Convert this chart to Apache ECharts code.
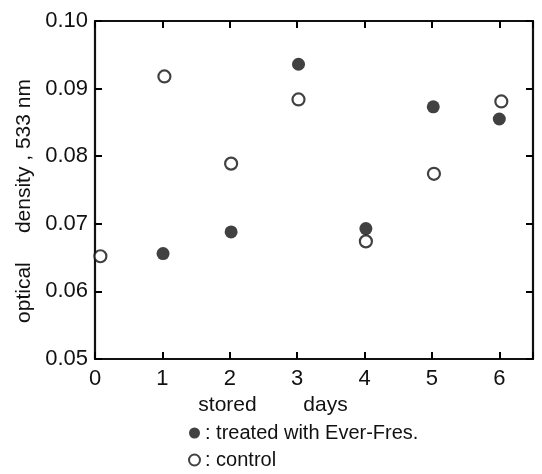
<!DOCTYPE html>
<html>
<head>
  <meta charset="utf-8">
  <title>optical density</title>
  <script src="https://cdn.jsdelivr.net/npm/echarts@6/dist/echarts.min.js"></script>
  <style>
    html, body { margin: 0; padding: 0; background: #fff; }
  </style>
</head>
<body>
<div id="main" style="width: 542px;height: 474px"></div>
<script type="text/javascript">
  // stored days and OD readings (533 nm)
  var days = [0, 1, 2, 3, 4, 5, 6];
  var controlX = [0.08, 1.03, 2.02, 3.02, 4.02, 5.03, 6.03];
  var controlOD = [0.0652, 0.0918, 0.0789, 0.0884, 0.0674, 0.0774, 0.0881];
  var treatedX = [1.01, 2.02, 3.02, 4.02, 5.02, 6.0];
  var treatedOD = [0.0656, 0.0688, 0.0936, 0.0693, 0.0873, 0.0855];
  var yTicks = ['0.05', '0.06', '0.07', '0.08', '0.09', '0.10'];

  function pairs(xs, ys) {
    var out = [];
    for (var i = 0; i < xs.length; i++) out.push([xs[i], ys[i]]);
    return out;
  }

  var font = "'Liberation Sans', Arial, sans-serif";
  var black = '#111';
  var tick = { show: true, inside: true, length: 7, lineStyle: { color: '#000', width: 2 } };
  var line = { show: true, onZero: false, lineStyle: { color: black, width: 2.2 } };

  var myChart = echarts.init(document.getElementById('main'));
  var option = {
    animation: false,
    textStyle: { fontFamily: font, color: black },
    grid: { left: 95, right: 9, top: 21, bottom: 115 },
    legend: {
      orient: 'vertical',
      left: 188,
      top: 423,
      height: 60,
      padding: 0,
      itemWidth: 11,
      itemHeight: 11,
      itemGap: 7,
      textStyle: { fontSize: 20, color: black, fontFamily: font },
      formatter: function (name) { return ': ' + name; },
      data: ['treated with Ever-Fres.', 'control']
    },
    xAxis: [{
      type: 'value', min: 0, max: 6.5, interval: 1,
      name: 'stored        days',
      nameLocation: 'middle', nameGap: 33,
      nameTextStyle: { fontSize: 21, color: black, padding: [0, 82, 0, 0] },
      axisLine: line,
      axisTick: tick,
      axisLabel: {
        fontSize: 22, color: black, margin: 9,
        formatter: function (v) { return days.indexOf(v) >= 0 ? String(v) : ''; }
      },
      splitLine: { show: false }
    }, {
      type: 'value', min: 0, max: 6.5, interval: 1, position: 'top',
      axisLine: line,
      axisTick: tick,
      axisLabel: { show: false },
      splitLine: { show: false }
    }],
    yAxis: [{
      type: 'value', min: 0.05, max: 0.10, interval: 0.01,
      name: 'optical     density , 533 nm',
      nameLocation: 'middle', nameGap: 60,
      nameTextStyle: { fontSize: 21, color: black, padding: [0, 22, 0, 0] },
      axisLine: line,
      axisTick: tick,
      axisLabel: {
        fontSize: 22, color: black, margin: 7,
        formatter: function (v) { return yTicks[Math.round((v - 0.05) * 100)]; }
      },
      splitLine: { show: false }
    }, {
      type: 'value', min: 0.05, max: 0.10, interval: 0.01, position: 'right',
      axisLine: line,
      axisTick: tick,
      axisLabel: { show: false },
      splitLine: { show: false }
    }],
    series: [{
      name: 'treated with Ever-Fres.',
      type: 'scatter',
      symbol: 'circle',
      symbolSize: 13,
      itemStyle: { color: black },
      data: pairs(treatedX, treatedOD)
    }, {
      name: 'control',
      type: 'scatter',
      symbol: 'circle',
      symbolSize: 12,
      itemStyle: { color: '#fff', borderColor: black, borderWidth: 2.2 },
      data: pairs(controlX, controlOD)
    }]
  };
  myChart.setOption(option);
</script>
</body>
</html>
